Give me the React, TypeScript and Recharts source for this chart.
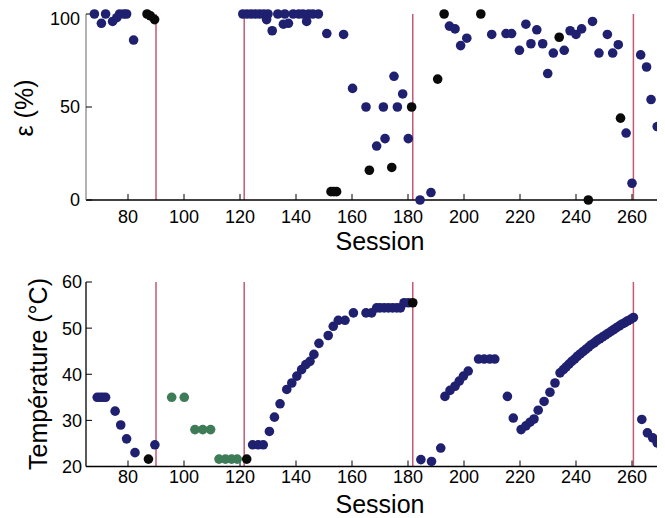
import React from 'react';
import { ScatterChart, Scatter, XAxis, YAxis, ReferenceLine } from 'recharts';

const FONT = '"Liberation Sans", Arial, sans-serif';

const sessionTicks = [80, 100, 120, 140, 160, 180, 200, 220, 240, 260];
const epsTicks = [0, 50, 100];
const tempTicks = [20, 30, 40, 50, 60];
const resetSessions = [90, 121.5, 181.7, 260.5];

// epsilon (%) per session
const epsBlue = [
  { s: 68, v: 100 }, { s: 70.5, v: 95 }, { s: 72, v: 100 }, { s: 74.5, v: 96 }, { s: 76, v: 98 },
  { s: 77, v: 100 }, { s: 78.5, v: 100 }, { s: 79.5, v: 100 }, { s: 82, v: 86 },
  { s: 121, v: 100 }, { s: 122.5, v: 100 }, { s: 124, v: 100 }, { s: 125.5, v: 100 }, { s: 127, v: 100 },
  { s: 128.5, v: 100 }, { s: 130, v: 100 }, { s: 133.5, v: 100 }, { s: 136, v: 100 }, { s: 139, v: 100 },
  { s: 141, v: 100 }, { s: 142.5, v: 100 }, { s: 144.5, v: 100 }, { s: 146, v: 100 }, { s: 148, v: 100 },
  { s: 129.5, v: 97 }, { s: 131.5, v: 91 }, { s: 135.5, v: 94.5 }, { s: 137.3, v: 95 }, { s: 143.8, v: 96 },
  { s: 151, v: 89.5 }, { s: 157, v: 89 }, { s: 160.2, v: 60 }, { s: 165, v: 50 }, { s: 171.2, v: 50 },
  { s: 176.2, v: 50 }, { s: 175, v: 66.5 }, { s: 178.1, v: 57 }, { s: 171.8, v: 33 }, { s: 168.8, v: 29 },
  { s: 180.1, v: 33 }, { s: 184.3, v: 0 }, { s: 188.2, v: 4 },
  { s: 194.8, v: 93.5 }, { s: 196.8, v: 92 }, { s: 198.8, v: 83 }, { s: 201, v: 87 }, { s: 209.9, v: 89 },
  { s: 215, v: 89.5 }, { s: 217, v: 89.5 }, { s: 219.8, v: 80.5 }, { s: 222.1, v: 94.5 }, { s: 223.9, v: 84 },
  { s: 226, v: 91.5 }, { s: 228.1, v: 84 }, { s: 229.9, v: 68 }, { s: 231.9, v: 79 }, { s: 235.8, v: 80.5 },
  { s: 237.9, v: 91 }, { s: 240, v: 89 }, { s: 242, v: 92 }, { s: 245.9, v: 96 }, { s: 248.2, v: 79 },
  { s: 251.2, v: 89 }, { s: 253.1, v: 79 }, { s: 255.1, v: 83.5 }, { s: 257.9, v: 36 }, { s: 260, v: 9 },
  { s: 263.1, v: 78 }, { s: 265.2, v: 71.5 }, { s: 266.8, v: 54 }, { s: 269, v: 39.5 }, { s: 271.2, v: 40 },
];

const epsBlack = [
  { s: 86.8, v: 100 }, { s: 88, v: 99 }, { s: 89.5, v: 97 },
  { s: 152.5, v: 4.5 }, { s: 153.5, v: 4.5 }, { s: 154.5, v: 4.5 }, { s: 166.2, v: 16 }, { s: 174.2, v: 17.5 },
  { s: 181.3, v: 50 }, { s: 190.6, v: 65 }, { s: 192.9, v: 100 }, { s: 206, v: 100 },
  { s: 234, v: 87.5 }, { s: 244.4, v: 0 }, { s: 255.9, v: 44 },
];

// temperature (°C) per session
const tempBlue = [
  { s: 69, v: 35 }, { s: 70, v: 35 }, { s: 71, v: 35 }, { s: 72, v: 35 },
  { s: 75.4, v: 32 }, { s: 77.4, v: 29 }, { s: 79.5, v: 26 }, { s: 82.5, v: 23 }, { s: 89.6, v: 24.7 },
  { s: 124.5, v: 24.7 }, { s: 126.5, v: 24.7 }, { s: 128.3, v: 24.7 }, { s: 130.5, v: 27.6 }, { s: 132.3, v: 30.7 },
  { s: 134.3, v: 33.6 }, { s: 136.7, v: 36.7 }, { s: 138.5, v: 38.1 }, { s: 140.3, v: 39.6 }, { s: 142, v: 41 },
  { s: 143.5, v: 42.1 }, { s: 145, v: 42.8 }, { s: 146.4, v: 44.3 }, { s: 148.2, v: 46.7 }, { s: 151.5, v: 48.4 },
  { s: 153.3, v: 50.4 }, { s: 155.1, v: 51.7 }, { s: 157.5, v: 51.7 }, { s: 160.5, v: 53.3 }, { s: 165, v: 53.3 },
  { s: 167, v: 53.3 }, { s: 168.8, v: 54.4 }, { s: 170, v: 54.4 }, { s: 171.5, v: 54.4 }, { s: 173, v: 54.4 },
  { s: 174.5, v: 54.4 }, { s: 176, v: 54.4 }, { s: 177.3, v: 54.4 }, { s: 178.6, v: 55.5 }, { s: 180.1, v: 55.5 },
  { s: 184.6, v: 21.5 }, { s: 188.4, v: 21.1 }, { s: 191.7, v: 24 }, { s: 193.2, v: 35.2 }, { s: 195, v: 36.5 },
  { s: 196.8, v: 37.4 }, { s: 198.3, v: 38.5 }, { s: 199.8, v: 39.6 }, { s: 201.5, v: 40.7 },
  { s: 205.2, v: 43.3 }, { s: 207.2, v: 43.3 }, { s: 209.2, v: 43.3 }, { s: 211, v: 43.3 },
  { s: 215.5, v: 35.2 }, { s: 217.6, v: 30.5 }, { s: 220.4, v: 28 }, { s: 222.1, v: 28.8 }, { s: 223.6, v: 29.6 },
  { s: 225, v: 30.3 }, { s: 226.5, v: 32.2 }, { s: 228.6, v: 34.1 }, { s: 230.7, v: 36.1 }, { s: 232.5, v: 38.1 },
  { s: 234.3, v: 40.3 }, { s: 235.5, v: 41 }, { s: 236.5, v: 41.6 }, { s: 237.5, v: 42.2 }, { s: 238.5, v: 42.8 },
  { s: 239.5, v: 43.3 }, { s: 240.5, v: 43.9 }, { s: 241.5, v: 44.4 }, { s: 242.5, v: 44.9 }, { s: 243.5, v: 45.4 },
  { s: 244.5, v: 45.9 }, { s: 245.5, v: 46.4 }, { s: 246.5, v: 46.8 }, { s: 247.5, v: 47.3 }, { s: 248.5, v: 47.7 },
  { s: 249.5, v: 48.1 }, { s: 250.5, v: 48.5 }, { s: 251.5, v: 48.9 }, { s: 252.5, v: 49.3 }, { s: 253.5, v: 49.7 },
  { s: 254.5, v: 50.1 }, { s: 255.5, v: 50.5 }, { s: 256.5, v: 50.9 }, { s: 257.5, v: 51.2 }, { s: 258.5, v: 51.6 },
  { s: 259.5, v: 51.9 }, { s: 260.5, v: 52.3 },
  { s: 263.5, v: 30.2 }, { s: 265.5, v: 27.3 }, { s: 267.4, v: 26.2 }, { s: 269, v: 25.1 }, { s: 270.6, v: 24 },
  { s: 272, v: 23 },
];

const tempBlack = [
  { s: 87.3, v: 21.6 }, { s: 122.4, v: 21.6 }, { s: 181.7, v: 55.5 },
];

const tempGreen = [
  { s: 95.6, v: 35 }, { s: 100.1, v: 35 }, { s: 103.9, v: 28 }, { s: 106.7, v: 28 }, { s: 109.5, v: 28 },
  { s: 112.5, v: 21.6 }, { s: 114.8, v: 21.6 }, { s: 117, v: 21.6 }, { s: 119, v: 21.6 },
];

const BLUE = '#1f2070';
const BLACK = '#0a0a0a';
const GREEN = '#3d7c57';
const RED = '#c25a72';

const dot = (color: string) => (props: any) => (
  <circle cx={props.cx} cy={props.cy} r={4.8} fill={color} />
);

// axis title; own prop names so that the Label clone does not override them
function Title({ tx, ty, rot, caption }: { tx: number; ty: number; rot?: number; caption: string }) {
  return (
    <text
      x={tx}
      y={ty}
      textAnchor="middle"
      fontSize={25}
      fontFamily={FONT}
      fill="#000"
      transform={rot ? `rotate(${rot} ${tx} ${ty})` : undefined}
    >
      {caption}
    </text>
  );
}

const tickStyle = { fontSize: 18, fill: '#000', fontFamily: FONT };

export default function App() {
  return (
    <div style={{ width: 657, overflow: 'hidden', fontFamily: FONT }}>
      <ScatterChart width={672} height={262} margin={{ top: 6, right: 6, left: 0, bottom: 0 }}>
        <XAxis
          dataKey="s"
          type="number"
          domain={[65, 275]}
          ticks={sessionTicks}
          height={70}
          tickSize={-6}
          tickMargin={16}
          tick={tickStyle}
          axisLine={{ stroke: '#000', strokeWidth: 1.5 }}
          tickLine={{ stroke: '#000' }}
          label={<Title tx={372} ty={242} caption="Session" />}
        />
        <XAxis
          xAxisId="top"
          orientation="top"
          type="number"
          domain={[65, 275]}
          ticks={sessionTicks}
          height={0}
          tickSize={-5}
          tick={false}
          axisLine={{ stroke: '#000', strokeWidth: 2 }}
          tickLine={{ stroke: '#000' }}
        />
        <YAxis
          dataKey="v"
          type="number"
          domain={[0, 100]}
          ticks={epsTicks}
          width={78}
          tickSize={-6}
          tickMargin={12}
          tick={tickStyle}
          axisLine={{ stroke: '#999', strokeWidth: 1.5 }}
          tickLine={{ stroke: '#000' }}
          label={<Title tx={24.5} ty={100} rot={-90} caption="ε (%)" />}
        />
        {resetSessions.map((s) => (
          <ReferenceLine key={s} x={s} stroke={RED} strokeWidth={1.5} />
        ))}
        <Scatter data={epsBlue} shape={dot(BLUE)} isAnimationActive={false} />
        <Scatter data={epsBlack} shape={dot(BLACK)} isAnimationActive={false} />
      </ScatterChart>
      <ScatterChart width={672} height={248} margin={{ top: 12, right: 6, left: 0, bottom: 0 }}>
        <XAxis
          dataKey="s"
          type="number"
          domain={[65, 275]}
          ticks={sessionTicks}
          height={51.5}
          tickSize={-6}
          tickMargin={10}
          tick={tickStyle}
          axisLine={{ stroke: '#000', strokeWidth: 1.5 }}
          tickLine={{ stroke: '#000' }}
          label={<Title tx={372} ty={243} caption="Session" />}
        />
        <XAxis
          xAxisId="top"
          orientation="top"
          type="number"
          domain={[65, 275]}
          ticks={sessionTicks}
          height={0}
          tickSize={-5}
          tick={false}
          axisLine={{ stroke: '#000', strokeWidth: 1.5 }}
          tickLine={{ stroke: '#000' }}
        />
        <YAxis
          dataKey="v"
          type="number"
          domain={[20, 60]}
          ticks={tempTicks}
          width={78}
          tickSize={-6}
          tickMargin={10}
          tick={tickStyle}
          axisLine={{ stroke: '#222', strokeWidth: 1.5 }}
          tickLine={{ stroke: '#000' }}
          label={<Title tx={38.5} ty={104} rot={-90} caption="Température (°C)" />}
        />
        {resetSessions.map((s) => (
          <ReferenceLine key={s} x={s} stroke={RED} strokeWidth={1.5} />
        ))}
        <Scatter data={tempBlue} shape={dot(BLUE)} isAnimationActive={false} />
        <Scatter data={tempBlack} shape={dot(BLACK)} isAnimationActive={false} />
        <Scatter data={tempGreen} shape={dot(GREEN)} isAnimationActive={false} />
      </ScatterChart>
    </div>
  );
}
